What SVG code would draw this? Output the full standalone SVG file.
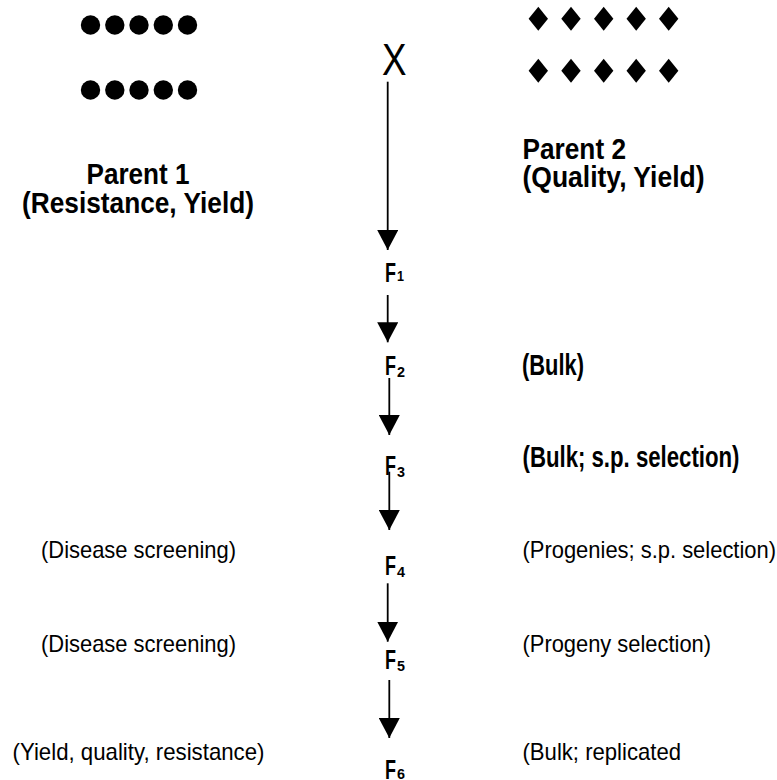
<svg xmlns="http://www.w3.org/2000/svg" width="777" height="780" viewBox="0 0 777 780">
<style>
.b{font-family:"Liberation Sans",Arial,sans-serif;font-weight:bold;font-size:29px;fill:#000}
.r{font-family:"Liberation Sans",Arial,sans-serif;font-size:24px;fill:#000}
.f{font-family:"Liberation Sans",Arial,sans-serif;font-weight:bold;font-size:27px;fill:#000}
.s{font-family:"Liberation Sans",Arial,sans-serif;font-weight:bold;font-size:14.5px;fill:#000}
.x{font-family:"Liberation Sans",Arial,sans-serif;font-size:44px;fill:#000}
.c{stroke:#000;stroke-width:1.8;fill:none;marker-end:url(#ah)}
</style>
<defs>
<marker id="ah" markerUnits="userSpaceOnUse" markerWidth="21" markerHeight="21" refX="20" refY="10.5" orient="auto">
<path d="M0,0 L20,10.5 L0,21 Z" fill="#000"/>
</marker>
<circle id="dot" r="9.7" fill="#000"/>
<path id="dia" d="M0,-12 L9.7,0 L0,12 L-9.7,0 Z" fill="#000"/>
</defs>

<g id="parent1">
<use href="#dot" x="90.5" y="25"/><use href="#dot" x="114.8" y="25"/><use href="#dot" x="139" y="25"/><use href="#dot" x="163.3" y="25"/><use href="#dot" x="187.5" y="25"/>
<use href="#dot" x="90.5" y="90"/><use href="#dot" x="114.8" y="90"/><use href="#dot" x="139" y="90"/><use href="#dot" x="163.3" y="90"/><use href="#dot" x="187.5" y="90"/>
<text class="b" x="86.5" y="184" textLength="103" lengthAdjust="spacingAndGlyphs">Parent 1</text>
<text class="b" x="22" y="213" textLength="232" lengthAdjust="spacingAndGlyphs">(Resistance, Yield)</text>
</g>

<g id="parent2">
<use href="#dia" x="538.3" y="18.7"/><use href="#dia" x="571" y="18.7"/><use href="#dia" x="603.7" y="18.7"/><use href="#dia" x="636.2" y="18.7"/><use href="#dia" x="668.7" y="18.7"/>
<use href="#dia" x="538.3" y="70.7"/><use href="#dia" x="571" y="70.7"/><use href="#dia" x="603.7" y="70.7"/><use href="#dia" x="636.2" y="70.7"/><use href="#dia" x="668.7" y="70.7"/>
<text class="b" x="522.5" y="158.5" textLength="103.5" lengthAdjust="spacingAndGlyphs">Parent 2</text>
<text class="b" x="522.5" y="187" textLength="182" lengthAdjust="spacingAndGlyphs">(Quality, Yield)</text>
</g>

<g id="cross"><text class="x" x="382" y="74.5" textLength="24.5" lengthAdjust="spacingAndGlyphs">X</text></g>

<g id="F1"><text class="f" x="385" y="282" textLength="11" lengthAdjust="spacingAndGlyphs">F</text><text class="s" x="397" y="281" textLength="7" lengthAdjust="spacingAndGlyphs">1</text></g>
<g id="F2"><text class="f" x="385" y="375" textLength="11" lengthAdjust="spacingAndGlyphs">F</text><text class="s" x="397" y="376.5" textLength="8" lengthAdjust="spacingAndGlyphs">2</text></g>
<g id="F3"><text class="f" x="385" y="475" textLength="11" lengthAdjust="spacingAndGlyphs">F</text><text class="s" x="397" y="476.5" textLength="8" lengthAdjust="spacingAndGlyphs">3</text></g>
<g id="F4"><text class="f" x="385" y="575" textLength="11" lengthAdjust="spacingAndGlyphs">F</text><text class="s" x="397" y="576.5" textLength="8" lengthAdjust="spacingAndGlyphs">4</text></g>
<g id="F5"><text class="f" x="385" y="669" textLength="11" lengthAdjust="spacingAndGlyphs">F</text><text class="s" x="397" y="670.5" textLength="8" lengthAdjust="spacingAndGlyphs">5</text></g>
<g id="F6"><text class="f" x="385" y="778.5" textLength="11" lengthAdjust="spacingAndGlyphs">F</text><text class="s" x="397" y="779" textLength="8" lengthAdjust="spacingAndGlyphs">6</text></g>

<g id="note-bulk"><text class="b" x="522" y="375" textLength="62" lengthAdjust="spacingAndGlyphs">(Bulk)</text></g>
<g id="note-bulk-sp"><text class="b" x="522.5" y="466.5" textLength="217" lengthAdjust="spacingAndGlyphs">(Bulk; s.p. selection)</text></g>
<g id="note-progenies"><text class="r" x="522.5" y="558.3" textLength="253.5" lengthAdjust="spacingAndGlyphs">(Progenies; s.p. selection)</text></g>
<g id="note-progeny"><text class="r" x="522.5" y="652" textLength="188.5" lengthAdjust="spacingAndGlyphs">(Progeny selection)</text></g>
<g id="note-replicated"><text class="r" x="522.5" y="760" textLength="158.5" lengthAdjust="spacingAndGlyphs">(Bulk; replicated</text></g>
<g id="note-disease1"><text class="r" x="41" y="558.3" textLength="195" lengthAdjust="spacingAndGlyphs">(Disease screening)</text></g>
<g id="note-disease2"><text class="r" x="41" y="651.7" textLength="195" lengthAdjust="spacingAndGlyphs">(Disease screening)</text></g>
<g id="note-yield"><text class="r" x="12.5" y="760" textLength="252" lengthAdjust="spacingAndGlyphs">(Yield, quality, resistance)</text></g>

<g id="connectors">
<line class="c" x1="387.7" y1="81.7" x2="387.7" y2="250"/>
<line class="c" x1="387.7" y1="295" x2="387.7" y2="342.3"/>
<line class="c" x1="389.3" y1="378" x2="389.3" y2="435"/>
<line class="c" x1="389.3" y1="471.7" x2="389.3" y2="530"/>
<line class="c" x1="387.7" y1="583.3" x2="387.7" y2="641.7"/>
<line class="c" x1="389.3" y1="680" x2="389.3" y2="738"/>
</g>
</svg>
